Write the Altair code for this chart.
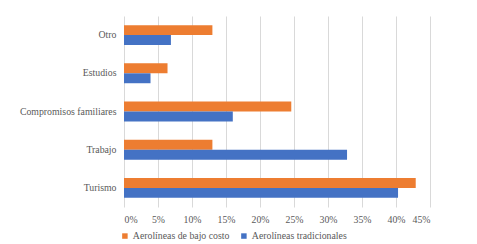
import altair as alt
import pandas as pd

categories = ["Otro", "Estudios", "Compromisos familiares", "Trabajo", "Turismo"]
series = ["Aerolíneas de bajo costo", "Aerolíneas tradicionales"]
low_cost = [13.0, 6.4, 24.6, 13.0, 42.9]
traditional = [6.9, 3.9, 16.0, 32.8, 40.3]
x_ticks = [0, 5, 10, 15, 20, 25, 30, 35, 40, 45]

rows = []
for c, a, b in zip(categories, low_cost, traditional):
    rows.append({"cat": c, "serie": series[0], "val": a})
    rows.append({"cat": c, "serie": series[1], "val": b})
df = pd.DataFrame(rows)

FONT = "'Liberation Serif', 'Times New Roman', serif"
GRAY = "#595959"
FS = 9.8

chart = alt.Chart(df).mark_bar().encode(
    x=alt.X("val:Q",
            scale=alt.Scale(domain=[0, 45], nice=False),
            axis=alt.Axis(values=x_ticks, labelExpr="datum.value + '%'", title=None,
                          domain=False, ticks=False, grid=True, gridColor="#d9d9d9",
                          labelFont=FONT, labelFontSize=FS, labelColor=GRAY,
                          labelPadding=7)),
    y=alt.Y("cat:N", sort=categories,
            scale=alt.Scale(paddingInner=0.48, paddingOuter=0.24),
            axis=alt.Axis(title=None, domain=False, ticks=False, labelFont=FONT,
                          labelFontSize=FS, labelColor=GRAY, labelPadding=8)),
    yOffset=alt.YOffset("serie:N", sort=series, scale=alt.Scale(paddingInner=0, paddingOuter=0)),
    color=alt.Color("serie:N", sort=series,
                    scale=alt.Scale(domain=series, range=["#ED7D31", "#4472C4"]),
                    legend=alt.Legend(title=None, orient="none", direction="horizontal",
                                      legendX=-4, legendY=215, symbolType="square",
                                      symbolSize=30, symbolStrokeWidth=0,
                                      labelFont=FONT, labelFontSize=FS, labelColor=GRAY,
                                      columnPadding=9, labelOffset=3)),
).properties(
    width=306, height=191,
    autosize=alt.AutoSizeParams(type="none"),
    padding={"left": 116, "top": 8, "right": 39, "bottom": 40},
).configure_view(stroke=None)

chart.save("out.html", embed_options={"renderer": "svg", "actions": False})
